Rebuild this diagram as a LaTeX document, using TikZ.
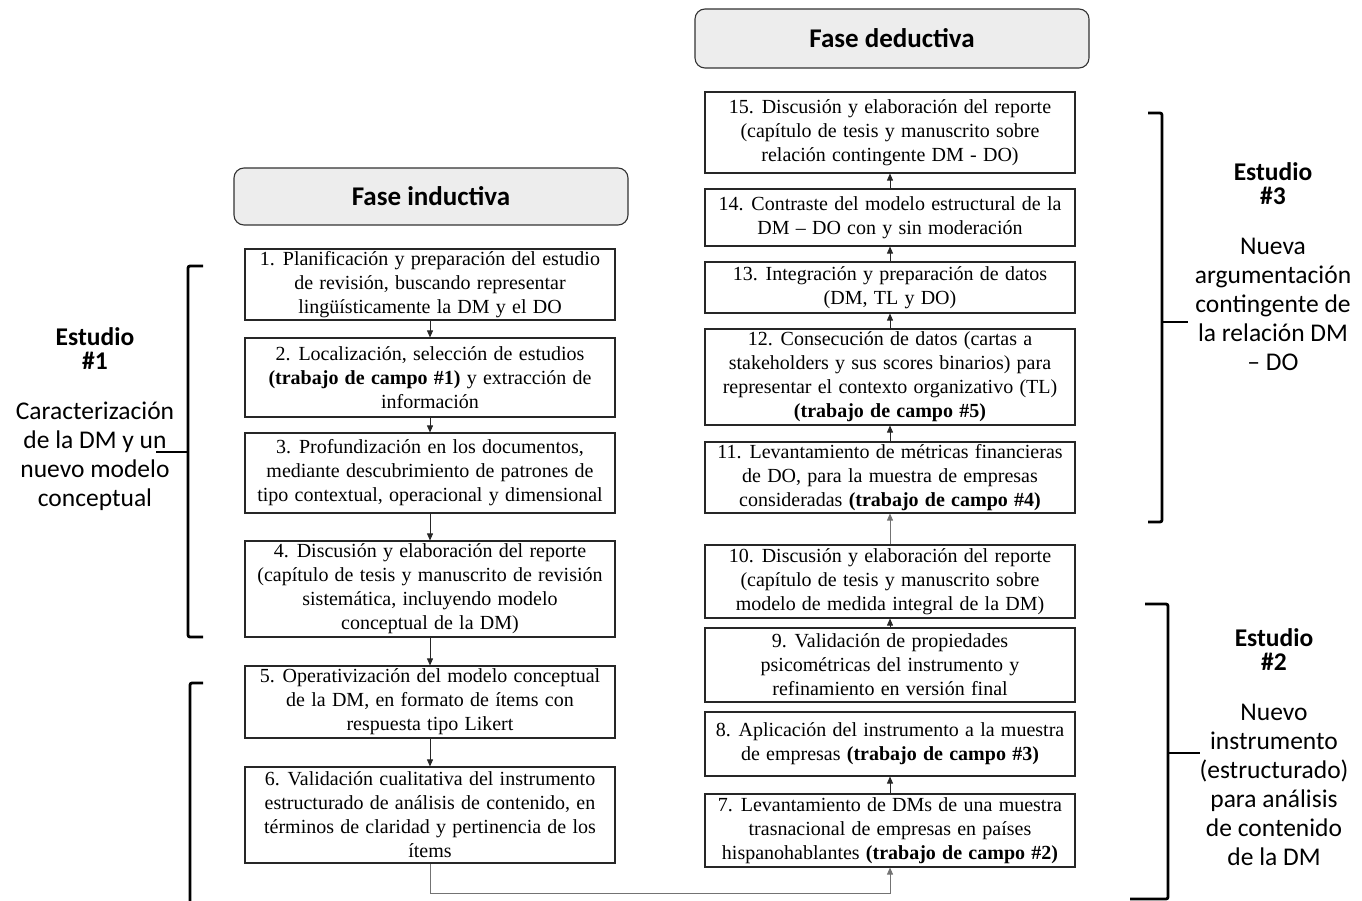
\documentclass[tikz,border=0pt]{standalone}
\usepackage{fontspec}
\setmainfont[WordSpace=1.25]{Liberation Serif}
\newfontfamily\labelfont{Carlito}
\usetikzlibrary{arrows.meta}
\begin{document}
\begin{tikzpicture}[x=1pt,y=-1pt,
  stepbox/.style={draw=black!85, line width=1.1pt, minimum width=370pt, align=center,
    inner sep=0pt, font=\fontsize{20}{24}\selectfont},
  phase/.style={draw=black!80, line width=1.1pt, rounded corners=10pt, fill=black!7,
    minimum width=394pt, font=\labelfont\bfseries\fontsize{27}{32}\selectfont},
  flow/.style={-{Triangle[length=7pt,width=6pt]}, line width=0.8pt, draw=black!85},
  longflow/.style={flow, draw=black!55},
  bracket/.style={line width=2.8pt, rounded corners=2pt},
  study/.style={align=center, font=\labelfont\fontsize{25.5}{29}\selectfont}]

\useasboundingbox (0,0) rectangle (1362,901);

% phase headers
\node[phase, minimum height=57pt] (ind) at (431,196.5) {Fase inductiva};
\node[phase, minimum height=59pt] (ded) at (892,38.5) {Fase deductiva};

% inductive phase (left column)
\node[stepbox, minimum height=71pt] (b1) at (430,284.5)
  {1. Planificación y preparación del estudio\\de revisión, buscando representar\\lingüísticamente la DM y el DO};
\node[stepbox, minimum height=79pt] (b2) at (430,377.5)
  {2. Localización, selección de estudios\\\textbf{(trabajo de campo \#1)} y extracción de\\información};
\node[stepbox, minimum height=80pt] (b3) at (430,473)
  {3. Profundización en los documentos,\\mediante descubrimiento de patrones de\\tipo contextual, operacional y dimensional};
\node[stepbox, minimum height=96pt] (b4) at (430,589)
  {4. Discusión y elaboración del reporte\\(capítulo de tesis y manuscrito de revisión\\sistemática, incluyendo modelo\\conceptual de la DM)};
\node[stepbox, minimum height=72pt] (b5) at (430,702)
  {5. Operativización del modelo conceptual\\de la DM, en formato de ítems con\\respuesta tipo Likert};
\node[stepbox, minimum height=96pt] (b6) at (430,815)
  {6. Validación cualitativa del instrumento\\estructurado de análisis de contenido, en\\términos de claridad y pertinencia de los\\ítems};

% deductive phase (right column)
\node[stepbox, minimum height=81pt] (b15) at (890,132.5)
  {15. Discusión y elaboración del reporte\\(capítulo de tesis y manuscrito sobre\\relación contingente DM - DO)};
\node[stepbox, minimum height=57pt] (b14) at (890,217.5)
  {14. Contraste del modelo estructural de la\\DM – DO con y sin moderación};
\node[stepbox, minimum height=51pt] (b13) at (890,287.5)
  {13. Integración y preparación de datos\\(DM, TL y DO)};
\node[stepbox, minimum height=96pt] (b12) at (890,377)
  {12. Consecución de datos (cartas a\\stakeholders y sus scores binarios) para\\representar el contexto organizativo (TL)\\\textbf{(trabajo de campo \#5)}};
\node[stepbox, minimum height=71pt] (b11) at (890,477.5)
  {11. Levantamiento de métricas financieras\\de DO, para la muestra de empresas\\consideradas \textbf{(trabajo de campo \#4)}};
\node[stepbox, minimum height=73pt] (b10) at (890,581.5)
  {10. Discusión y elaboración del reporte\\(capítulo de tesis y manuscrito sobre\\modelo de medida integral de la DM)};
\node[stepbox, minimum height=74pt] (b9) at (890,665)
  {9. Validación de propiedades\\psicométricas del instrumento y\\refinamiento en versión final};
\node[stepbox, minimum height=64pt] (b8) at (890,744)
  {8. Aplicación del instrumento a la muestra\\de empresas \textbf{(trabajo de campo \#3)}};
\node[stepbox, minimum height=73pt] (b7) at (890,830.5)
  {7. Levantamiento de DMs de una muestra\\trasnacional de empresas en países\\hispanohablantes \textbf{(trabajo de campo \#2)}};

% connectors
\draw[flow] (b1) -- (b2);
\draw[flow] (b2) -- (b3);
\draw[flow] (b3) -- (b4);
\draw[flow] (b4) -- (b5);
\draw[flow] (b5) -- (b6);
\draw[longflow] (b6.south) -- ++(0,30) -| (b7.south);
\draw[flow] (b7) -- (b8);
\draw[flow] (b9) -- (b10);
\draw[longflow] (b10) -- (b11);
\draw[flow] (b11) -- (b12);
\draw[flow] (b12) -- (b13);
\draw[flow] (b13) -- (b14);
\draw[flow] (b14) -- (b15);

% study brackets
\draw[bracket] (203,266) -- (188,266) -- (188,637) -- (203,637);
\draw[bracket] (188,452) -- (156,452);
\draw[bracket] (203,683) -- (190,683) -- (190,903);
\draw[bracket] (1148,113) -- (1162,113) -- (1162,522) -- (1148,522);
\draw[bracket] (1162,322) -- (1188,322);
\draw[bracket] (1145,604) -- (1168,604) -- (1168,899) -- (1130,899);
\draw[bracket] (1168,753) -- (1200,753);

% study labels
\node[study] (s1) at (95,419)
  {\textbf{Estudio}\\[-5pt]\textbf{\#1}\\[21pt]Caracterización\\de la DM y un\\nuevo modelo\\conceptual};
\node[study] (s3) at (1273,267)
  {\textbf{Estudio}\\[-5pt]\textbf{\#3}\\[21pt]Nueva\\argumentación\\contingente de\\la relación DM\\– DO};
\node[study] (s2) at (1274,747)
  {\textbf{Estudio}\\[-5pt]\textbf{\#2}\\[21pt]Nuevo\\instrumento\\(estructurado)\\para análisis\\de contenido\\de la DM};
\end{tikzpicture}
\end{document}
